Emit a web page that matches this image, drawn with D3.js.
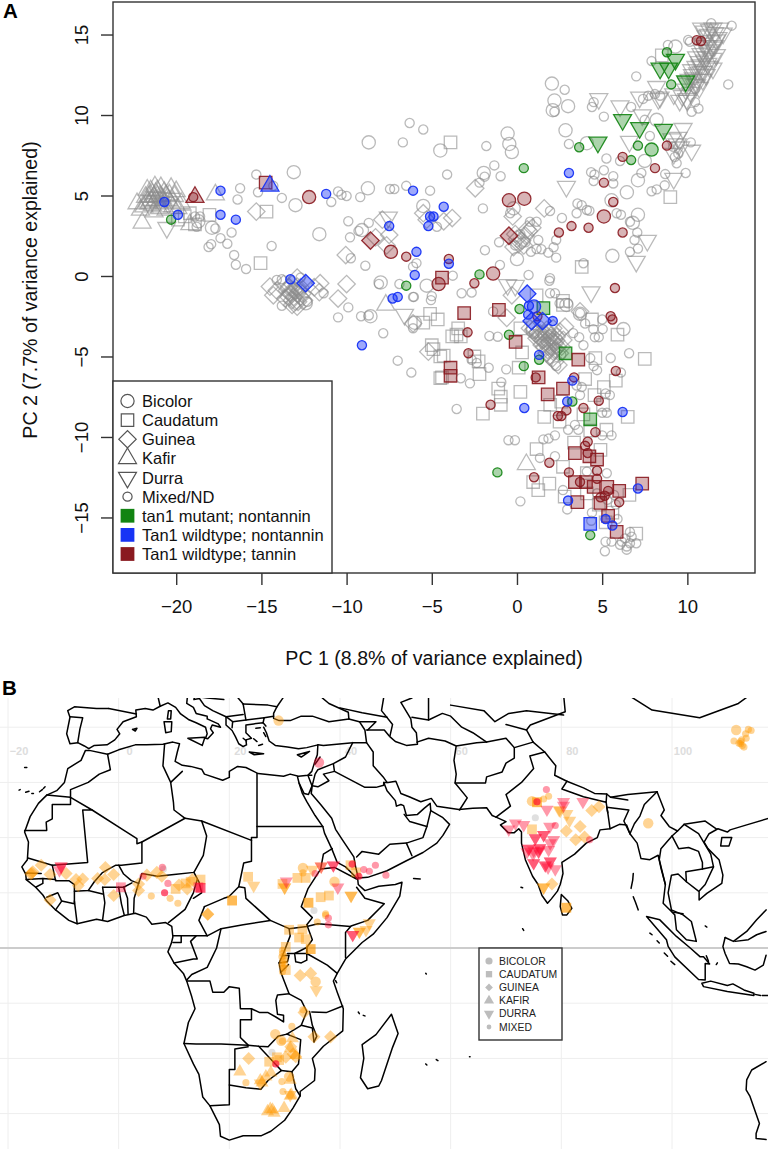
<!DOCTYPE html>
<html>
<head>
<meta charset="utf-8">
<title></title>
<script src="https://d3js.org/d3.v7.min.js"></script>
<style>
body {margin:0; background:#fff;}
svg {display:block;}
text {font-family:"Liberation Sans",Arial,sans-serif;}
</style>
</head>
<body>
<svg width="768" height="1149"></svg>
<script>
// panel A, values are [PC1, PC2]
var pc1Ticks = [-20,-15,-10,-5,0,5,10];
var pc2Ticks = [-15,-10,-5,0,5,10,15];
var legendLabels = ["Bicolor","Caudatum","Guinea","Kafir","Durra","Mixed/ND","tan1 mutant; nontannin","Tan1 wildtype; nontannin","Tan1 wildtype; tannin"];

var greyBicolor = [[-8.7,8.3],[-4.5,7.8],[-13.1,6.45],[-13,4.4],[-8.75,5.45],[-11.6,2.6],[-17.9,3],[-9.1,2.85],[-5.5,4.35],[-8,-.4],[-8.6,-2.5],[-6,-2.9],[-12.4,-1.7],
 [2.05,11.95],[2.2,10.9],[3,10.55],[2.1,10.3],[2.85,9.05],[-.55,8.85],[-.45,8.2],[-.3,7.7],[-1.95,6.4],[4.1,8.25],[6.45,5.2],[7.1,5.95],[7.5,7.15],[8.2,9.7],[9.3,14.25],[7.1,3.8],[5.6,1.25],[0,1.05],[5.55,4.7],[6.8,3.3],[6.25,-3.3],[3.7,-2.35],[2.9,-1.8],[-.2,4.2],[-18.7,3.4],[-5.3,-.6]];
var greyCaudatum = [[-14.7,4],[-15.05,.8],[-18.05,3.8],[-19.9,3.5],[-18.9,3.2],[-19.5,3.7],[-19.2,3.9],[-3.9,8.3],[9,4.9],[3.8,.56],[1.15,-1.2],[8.5,13.7],[2.7,-1.55],[-5.1,-2.35],[-5.5,-2.9],[-5,-4.3],[-4.5,-6.35],[-4.5,-5],[-4.65,-2.7],[-3.45,-3.25],[-3.8,-3.75],[-3.55,-3.65],[-3.3,-3.75],[-4.9,-4.55],[-4.3,-4.95],[-4.4,-6.3],[-2.25,-5.3],[-2.5,-5],[-2.2,-6.1],[-1.1,-7],[-.95,-7.5],[-.95,-8],[-2,-8.55],[.2,-7.2],[.1,-5.7],[.3,-4.75],[.2,-3.25],[1.6,-8.75],[1.95,-8],[2.5,-9.05],[1.15,-10.75],[.95,-12.8],[1.25,-13.3],[1.9,-12.9],[7.5,-5.15],[5.9,-3.65],[5.8,-6.5],[5.1,-6.9],[4.6,-5.1],[4,-6.4],[4.55,-7.4],[5.05,-8],[6.5,-8.75],[4.4,-2.7],[2.7,-1.8],[2.6,-7.8],[4.9,-10.8],[3.35,-10.35],[2.7,-11.85],[5.25,-9.55],[4.1,-12.25],[4.1,-13.5],[2.8,-13.7],[7,-16],[6.6,-13.6],[4.8,-14.2],[5.6,-14.7],[5.2,-15.3],[3.9,-8.6],[4.3,-9.6]];
var greyGuinea = [[-15.3,4],[-10.05,1.3],[-10,-.5],[-10.5,-1.4],[-7.9,3.5],[-7.5,2.55],[-8.3,2.4],[-7.65,1.9],[-5.5,3.9],[-5.3,3.5],[-11.55,-.45],[-11.6,-1],[-5.2,-4.7],[-6.1,-2.95],[-2.45,5.45],[1.6,4.2],[-.25,3.7],[-3.8,3.6],[-4.3,3.4],[-.3,-1.2],
 [-.2,1.8],[.1,2],[.3,2.2],[.5,2.5],[.7,2.8],[.9,3],[0,2.3],[.4,1.9],[.6,2.9],[-.1,2.6],
 [-14.5,-.66],[-14.1,-.9],[-13.7,-.5],[-13.3,-1.1],[-12.9,-.1],[-12.9,-.66],[-12.6,-1.1],[-11.9,-.7],[-13.2,-1.5],[-14.3,-1.2],[-12.85,-1.6],[-13.6,-1.4],[-12.5,-1.5],[-13.5,-.9],[-13.1,-.9],[-12.7,-1.3],
 [-13.4,-.7],[-13.2,-.5],[-13,-.9],[-13.1,-1.3],[-12.9,-1.1],[-13.3,-1],[-12.8,-.9],[-13,-1.6],[-13.4,-1.3],[-12.7,-.7],[-13.2,-1.8],[-12.9,-1.9],
 [.76,-3.25],[.96,-3.35],[1.35,-3.56],[1.74,-3.35],[2.13,-3.25],[2.52,-3.46],[2.82,-3.15],[1.15,-3.87],[1.55,-3.97],[1.94,-3.87],[2.33,-3.77],[2.72,-3.97],[1.45,-4.28],[1.84,-4.39],[2.23,-4.18],[2.62,-4.39],[1.74,-4.8],[2.13,-4.7],[2.52,-4.8],[2.23,-5.32],[2.43,-5.53],[3.7,-2.2],[-.6,-2.6],
 [1,-3.3],[1.2,-3.5],[1.4,-3.3],[1.6,-3.6],[1.8,-3.5],[2,-3.7],[1.3,-3.8],[1.5,-4],[1.7,-4.1],[1.9,-4.1],[2.1,-4],[2.3,-4],[1.6,-4.4],[1.8,-4.6],[2,-4.4],[2.2,-4.6],[2.4,-4.4],[1.9,-5],[2.1,-5.1],[1.1,-3.6]];
var greyKafir = [[-22.3,4.5],[-21.7,5.35],[-21.25,5.55],[-20.3,5.45],[-20,5.25],[-22,3.3],[-21.5,4.7],[-20.95,4.95],[-20.45,4.7],[-21.9,4.3],[-21.4,5.1],[-22.1,4.1],[-21.2,4.7],[-21.6,4.95],[-20.7,5.2],[-20.1,4.95],[-17.7,5.05],[-21,4.2],[-20.6,4.1],[-21.3,4],[-20.2,4.3],[-19.7,4.5],[-19.2,3.2],[.55,-11.7],[-7.7,-1.8],
 [-21.8,4.9],[-21.5,5.3],[-21.1,5.3],[-20.8,4.8],[-20.6,5],[-21.3,4.9],[-21,4.6],[-21.6,4.5],[-20.9,5.5],[-21.2,5.15],[-20.4,5.05],[-20.7,4.5],[-21.4,4.4],[-20.2,4.6],[-19.9,4.2],[-21.1,4.95],[-20.9,4.3],[-21.7,4.6]];
var greyDurra = [[-20.55,3],[-7.55,3.65],[-6.6,-2.4],[4.8,11],[6.05,10.55],[7.35,10],[6.6,8.35],[9.75,9.15],[9.45,8.6],[10.25,7.8],[9.2,6.05],[2.9,5.55],[7.65,2.2],[7,.9],[-.55,-.55],[4.35,-1],[7.2,11.1],[8.3,11],[9.55,10.9],
 [10.84,15.38],[11.5,15.38],[11.9,15.38],[11.23,15],[11.7,14.66],[12.1,15.07],[10.94,14.45],[11.33,14.04],[10.54,13.6],[11.13,13.6],[11.7,13.74],[11.5,12.9],[10.74,13.1],[10.25,12.8],[10.94,12.7],[10.35,12.3],[9.96,11.97],[8.2,11.76],[8.4,11.1],[9.2,11.3],[9.96,11],[10.54,11.86],[11.1,14.9],[11.6,14.3],[10.9,14],[11.2,13.2],[10.6,12.6],
 [11,15.2],[11.3,15.3],[11.6,15.1],[11.8,14.8],[11.4,14.6],[11.1,14.3],[11.5,14.2],[10.8,13.8],[11.2,13.9],[11.5,13.5],[10.7,13.3],[11,13.4],[11.3,13],[10.5,13],[10.8,12.7],[11.1,12.5],[10.3,12.5],[10.6,12.2],[10.9,12.2],[10.1,12.2],[10.4,11.9],[10.7,11.7],[9.9,11.6],[10.2,11.4],[9.7,11.2],[10,10.9],
 [9.1,8.5],[9.4,8.2],[9.2,7.6],[9.6,8],[-.1,-.6]];
var greyMixed = [[-6.3,9.5],[-5.5,9.1],[-6.7,8.3],[-15.3,6.3],[-14.3,5.6],[-15.2,5.2],[-16.25,5.45],[-16.4,4.75],[-13.8,4.85],[-10.5,5.25],[-10.3,5.05],[-10,4.97],[-10.9,4.6],[-9.2,4.9],[-7.45,5.4],[-7.2,5.4],[-6.5,5.6],[-5.1,5.3],[-9.9,3.4],[-8.7,3.3],[-9.3,2.8],[-9.8,2.4],[-16.75,2.7],[-17.7,2.95],[-17.4,2.35],[-17,2],[-17.95,1.97],[-18.1,1.8],[-14.4,1.86],[-16.6,1.3],[-16.5,.7],[-15.9,.43],[-18.8,3.06],[-18.9,3.7],[-18.6,3.7],[-9.75,1.1],[-8.9,.64],[-6.1,.58],[-5.9,.8],[-8.1,-.5],[-6.9,-.5],[-6.1,-1.3],[-5,-1.25],[-13.8,-.2],[-14.1,-.25],[-12.7,-.1],[-11.35,-1.07],[-4.7,3.06],
 [-13.8,-1.85],[-12.3,-1.6],[-10.5,-2.57],[-9.9,-1.95],[-9.15,-2.5],[-8.7,-2.45],[-7.85,-3.56],[-7,-5.26],[-6.2,-6],[-6.05,-1.3],[-5.05,-1.5],[-6.1,-3.25],
 [-1.8,8.07],[-4.1,6.3],[-1.33,6.87],[-.96,6.2],[-2.2,5.8],[-1.9,6.17],[-2,4.2],[2.8,11.57],[2.2,10.2],[5.1,9.9],[4.4,10.5],[4.5,10.8],[6.7,10.5],[7,12.4],[12.4,11.9],[12.6,15.55],[3.05,8.2],[5.25,7.3],[4.35,6.45],[4.55,6.3],[5.1,6.57],[4.5,5.9],[5.65,6.2],[5.65,5.75],[7.3,6.4],[7.9,5.26],[8.2,5.38],[8.67,5.63],[8.7,6.33],[9.9,6.4],[6.05,7.14],[7.8,8.7],[7.5,9.7],[3.55,4.5],[3.8,4.4],[4.1,4.1],[3.5,3.9],[4.25,4.05],[2.64,3.6],[1.94,4.04],[-1.88,1.6],[-1.05,2.1],[1.15,3.37],[.76,3.37],[1.25,2.24],[1.15,1.68],[.82,1.5],[1.84,1.45],[1.43,1.66],[2.15,1.78],[2.3,2.24],[2.3,1.14],[-1,.68],[.68,.06],[1.94,-.14],[1.9,-.3],[3.9,.79],[-3.77,.02],[-3.25,-1.07],[-2.66,-1.03],[1.94,-1.07],[2.23,-1.07],[6.63,1.5],[7.1,1.7],[6.63,3.37],[7.06,2.7],[6.9,2.24],[5.85,3.9],[6.1,3.8],[-.4,3.9],[7.9,13.35],[8.86,14.35],[10.05,14.66],[10.15,14.55],[11.4,15.7],[10.45,11.65],[10.65,10.4],[10.25,10.2],[10.45,10.8],[8.4,11.2],[8.1,11.3],[7.7,11.2],[7.4,11],[9.37,7],[9.27,7.4],[9.47,7.6],[9.17,8.03],[9.56,8.25],[10.2,8.3],[.2,2.6],[.5,2.1],[-.1,1.9],
 [-3.54,-8.26],[-1.62,-3.73],[-1.13,-3.77],[-1.66,-5.7],[-.63,-5.8],[-3.3,-6.35],[-2.76,-6.67],[-.92,-6.6],[-.5,-10.2],[-.12,-10.2],[1.55,-10.15],[1.85,-10.1],[2.23,-9.9],[1.35,-11.3],[2.23,-11.2],[.2,-14],[2.95,-14.5],[5.16,-17.1],[5.2,-16.5],[6.44,-16.8],[6.73,-16.2],[6.05,-16.7],[6.34,-16.3],[6.15,-16.5],[6.63,-16.6],[6.44,-17],[7,-16.6],[6.63,-15.9],[5.55,-16.5],[2.7,-13.3],[5.27,-12.25],[4.1,-12.15],[4.36,-15.2],[5.5,-5.1],[6.58,-4.8],[6.1,-6],[5,-2.7],[5.03,-3.3],[4.48,-3.3],[4.8,-3.8],[4.57,-3.8],[3.65,-3.8],[3.9,-4.3],[3.3,-3.55],[4,-2.95],[3.7,-2.3],[4.5,-5.6],[4.7,-5.85],[4.3,-5.1],[3,-1.7],[2.5,-1.7],[5.2,-7.3],[5.45,-7.4],[3.7,-7.4],[3.5,-6.8],[3.8,-6.9],[5.27,-8.5],[5,-8.5],[3,-9.55],[3.4,-9.25],[3.6,-9.55],[5,-9.9],[5.55,-9.9],[-2.66,-5.2],[-2.36,-5.4],[-1.4,-2.2],
 [1,-3.6],[1.5,-3.7],[2,-3.6],[2.4,-3.9],[1.7,-4.1],[2.3,-4.5],[2.6,-4.9],[2.3,-5.6],[5.8,-14.2],[5.3,-13.9],[5.7,-13.6],[4.7,-13.5],[4.4,-14.7],[5.9,-15.1]];

var greenMixed = [[-20.3,3.5],[-6.5,-.6],[-2.2,.1],[.4,6.7],[7.1,8.1],[6.7,7.2],[3.65,8],[9.05,11.9],[8.8,13.9],[.15,-2.05],[-.47,-3.65],[1.3,-5.2],[.4,-5.6],[3.25,-7.8],[-1.15,-12.2],[4.3,-16.1]];
var greenBicolor = [[7.9,7.85]];
var greenCaudatum = [[1.55,-2],[2.85,-4.8],[4.3,-8.9]];
var greenDurra = [[4.75,8.3],[6.2,9.7],[7.2,9.2],[8.6,9.1],[9.9,12.1],[8.4,12.9],[8.9,12.9],[9.3,13.45]];

var blueMixed = [[-20.7,4.6],[-19.9,3.8],[-17.4,5.3],[-17.4,3.8],[-16.5,3.5],[-11.2,5.1],[-6.1,5.3],[-7.5,3.1],[-5.1,3.7],[-4.9,3.7],[-5.2,3.1],[-5.9,1.5],[-6,.06],[-13.3,-.2],[-7.3,-1.4],[-7,-1.3],[-4.3,4.3],[3.05,6.4],[-4,.76],[.7,-1.85],[.66,-2.4],[2.1,-2.8],[1.3,-4.9],[3.25,-6.5],[2.95,-7.8],[.43,-8.2],[6.2,-8.45],[3,-13.95],[7.1,-13.2],[5.2,-15.1],[5.6,-15.5],[-9.1,-4.3]];
var blueBicolor = [[1,-1.9]];
var blueCaudatum = [[4.3,-15.4]];
var blueGuinea = [[-12.4,-.45],[.6,-1.1],[.86,-2.8],[1.5,-2.8]];
var blueKafir = [[-14.5,5.6]];

var redMixed = [[-19,4.9],[-6.5,1.2],[-4,1.06],[-2.5,-.45],[2.46,2.7],[3.2,3.1],[4.2,3],[5.65,4.6],[6.2,2.7],[5.1,5.8],[6.2,7.4],[8.1,6.7],[8.8,8.1],[5.75,-.75],[10.55,14.65],[10.8,14.6],[-2.9,-3.5],[-2.85,-4.8],[1.2,-2.5],[1.1,-6.3],[3.35,-6.3],[5.5,-2.5],[5.6,-2.7],[5.8,-5.9],[4.8,-7.75],[3.9,-8.2],[2.9,-8.35],[2.6,-8.7],[2.4,-8.7],[-1.55,-8],[4.6,-9.7],[4.15,-10.3],[4,-10.55],[4.15,-11],[1.9,-11.6],[1,-12.5],[3.05,-12.2],[4.7,-12.1],[3.7,-12.8],[4.7,-12.6],[5.35,-13.35],[5.15,-13.65],[4.9,-13.75],[6,-14.05]];
var redBicolor = [[-12.2,4.9],[-7.4,1.5],[-.47,4.7],[.43,4.8],[5.1,3.7],[-1.4,.15],[-4.6,-.5]];
var redCaudatum = [[-14.75,5.8],[-4.4,-.1],[-3.1,-2.3],[-1.06,-2.1],[-.08,-4.1],[-3.9,-5.7],[-3.9,-6.2],[1.27,-6.3],[1.8,-7.35],[2.7,-7],[3.6,-5.2],[3.4,-11],[4.25,-11.2],[4.7,-11.4],[3.4,-12.8],[4.05,-12.8],[4.5,-13.1],[5.3,-13.1],[6,-13.35],[7.35,-12.9],[3.55,-14.05],[4.9,-14.1],[5.35,-14.9],[5.85,-15.9]];
var redGuinea = [[-8.6,2.2],[-.47,2.5]];
var redKafir = [[-18.9,4.9]];

// panel B, values are [longitude, latitude]
var lonTicks = [-20,0,20,40,60,80,100];
var latGrid = [40,30,20,10,-10,-20,-30];
var mapLegend = ["BICOLOR","CAUDATUM","GUINEA","KAFIR","DURRA","MIXED"];

var orangeBicolor = [[28.9,41.2],[33.3,14.5],[39,12],[74.7,26.6],[95.7,22.6],[111.6,39.5],[28.3,-15.6],[29.4,-16.8],[35.6,-6.1],[30.8,-23.3]];
var orangeCaudatum = [[10.3,10.7],[12.1,11.7],[13,12],[14.8,12.4],[23.4,12.9],[20.5,8.6],[20.5,8.6],[29.6,11.6],[32.3,12.7],[33.8,12.7],[34.3,8.2],[34.3,8.2],[36.5,9.2],[38,9.5],[41.9,15],[42.9,13.7],[75.6,26.4],[75.6,26.4],[74.7,21.5],[80.9,7.3],[80.9,7.3],[33.2,3.4],[32.6,1.9],[33.8,1.6],[34.7,-.2],[34.7,-.2],[30.2,.2],[30.8,3.3],[30.2,-4],[29,-20.3],[27.2,-20.6],[28.6,-19.8]];
var orangeGuinea = [[-15.7,13.6],[-15.5,13.8],[-15.9,13.4],[-14,15],[-12.4,13.3],[-9.5,13.5],[-7.7,12.4],[-6.5,12.5],[-7.3,11.3],[-3.8,12.6],[-2.5,12.4],[-2.4,14.6],[-.9,13.3],[-.9,9.5],[-12.4,8.7],[3.6,11.6],[3.6,10.4],[5.1,13.2],[6.9,13.7],[7.8,13],[10.9,11.4],[12.4,10.7],[13.3,12.4],[85.5,24.9],[86.8,25.6],[83.4,22],[80.9,21.2],[82.6,19.6],[84.2,20.1],[78.3,11.6],[16.1,6.1],[16.1,6.1],[34.7,-4.6],[32.8,-5],[33.5,-11.7],[38.3,-16.1],[35.3,-16.1],[23.5,-20],[32,-19.7],[31.1,-17.9],[30.2,-19.8],[31.5,-19.2]];
var orangeKafir = [[21.9,-22.4],[27.5,-22.6],[26.6,-23.3],[25.9,-24.4],[25.6,-24],[31,-23.9],[31,-26.8],[31.2,-26.6],[27.8,-29.3],[26.9,-29.6],[28.1,-29.9],[27.4,-29.2],[29.9,-29],[31,-18.2],[32,-19.4],[31.4,-16.4]];
var orangeDurra = [[24.4,11.3],[30,11],[30,11],[35,14.2],[42,9.5],[43.5,3],[43.5,3],[44.7,3.3],[45.3,4.5],[35.7,-7.6],[25.6,-24.5],[76.8,11],[76.8,11],[79.8,24.9],[79.6,25],[81,24.3],[81.5,23.1],[42,9.5],[36.6,14.8],[31,-26.6]];
var orangeMixed = [[5.9,9.4],[9.3,9],[10.7,8.1],[33.3,13.6],[37.4,5.9],[77.7,27.5],[76.8,27],[113.8,39.6],[114.3,39.4],[111.2,37.5],[113.3,38.8],[112.4,37.4],[112.6,37.7],[112.1,37.1],[113,36.4],[112.7,36.7],[112.4,37],[113.4,38],[29.6,-.4],[29.6,-1],[29.5,-1.6],[29.7,-2.2],[29.6,-2.7],[29.5,-3.2],[29.8,-3.6],[29.6,-4.3],[29.9,-1.4],[30,-2.2],[30,-3],[31.3,-14.2],[23,-24.4],[29.5,-24.2],[29.7,-26],[29.6,-16.9],[33.3,-11.2],[37.4,6.2],[35.9,4.7]];
var redBicolorMap = [[36.2,33.6]];
var redCaudatumMap = [[14.8,10.9],[14.8,10.9],[14.4,11],[.4,11]];
var redDurra = [[-10.4,14.8],[-10.4,14.8],[-10.7,14.1],[36.6,14.8],[38.8,15],[38.8,15],[30.3,12.1],[39.6,11],[42.3,2.4],[42.3,2.4],[70.5,21.5],[71.7,22.6],[73.2,22.3],[77.4,25.1],[80.4,26.5],[80.4,25.8],[83.9,26.5],[77.9,22],[78.6,19.6],[75.3,19.9],[75.3,19.9],[76.8,20.5],[76.8,20.5],[74.1,18],[74.1,18],[75,17.7],[76.1,18.1],[76.1,18.1],[77.7,17.8],[75,15.4],[75,15.4],[77.1,15],[77.1,15],[78,15.7],[78,15.7],[78.9,14.3],[75.9,17.5],[75.9,17.5],[74.9,17],[78,19],[77.6,14.6],[73.8,17.4]];
var redMixedMap = [[4.4,13],[8.9,11.7],[8.3,10],[8.3,10],[7.9,14.6],[35.5,13.5],[42.2,15.2],[42.2,15.2],[43.4,13],[43.4,13],[44.3,14.2],[45.3,13.9],[46.4,15],[77.3,28.7],[75.6,26.5],[75.6,26.5],[78.9,22.2],[85.1,19.6],[48.3,13.2],[37.9,5.4],[37.9,4.2],[28.4,-21],[28.4,-21]];
var greyMap = [[8.1,14.3],[35.3,6.8],[75.3,23.6],[27.7,-18.9]];

// coast lines and borders, one [lon,lat] polyline each
var coasts = [
 [[-1.8,43.4],[-4,43.4],[-8,43.7],[-9.2,43],[-8.8,41.8],[-9.4,38.8],[-8.8,37],[-7.4,37.2],[-6.2,36.6],[-5.4,36.1],[-4.4,36.7],[-2.1,36.8],[-.7,37.7],[.2,38.8],[-.3,39.6],[.8,41],[3.2,41.9],[3.1,43.1],[4.8,43.4],[6.2,43.1],[7.5,43.8],[8.9,44.4],[10.3,43.6],[11.2,42.4],[12.6,41.4],[14,40.8],[15.7,40],[16,38.8],[15.7,38],[16.1,37.9],[17.1,39],[16.6,39.7],[16.9,40.4],[18.4,40],[18,40.6],[16,41.5],[16,42],[14,42.5],[13.5,43.6],[12.3,44.3],[12.4,45.3],[13,46]],
 [[13.7,46],[13.7,45.6],[13.6,45],[14.6,45.2],[15.5,43.9],[17,43],[19.4,41.9],[19.4,40.4],[20.5,39.4],[21.1,38.3],[21.7,37],[22.5,36.5],[23.1,36.8],[23,37.7],[24,38],[23,39],[23,40.4],[24.4,40.6],[26.1,40.8],[26.6,40.2]],
 [[26.2,40],[26.7,39],[27.2,37.5],[28.3,36.7],[30.5,36.4],[32.5,36.1],[34,36.3],[36,36.8],[35.9,35],[35.5,33.9],[34.9,32],[34.2,31.3],[32.5,31.1],[31,31.5],[29.8,31.1],[25.2,31.6],[23,32.7],[21.5,32.9],[20,32],[20,30.9],[18.8,30.4],[15.5,31.5],[15,32.4],[13,32.9],[11.5,33.1],[10.2,33.8],[10.6,35.5],[11,37],[9.8,37.3],[8,36.9],[5,36.8],[3,36.8],[0,35.9],[-2,35.1],[-5.3,35.8],[-6,35.8],[-6.8,34],[-9.2,32.5],[-9.8,30],[-11.2,28.5],[-13,27.7],[-14.5,26.2],[-16,23.8],[-17,21],[-16.3,19.2],[-16.5,16],[-17.5,14.7],[-16.8,13.4],[-16.7,12.4],[-15,11],[-13.7,9.6],[-13,8.5],[-11.4,6.9],[-9,5],[-7.5,4.4],[-4,5.2],[-2,4.8],[1,5.9],[3,6.3],[5,5.6],[6,4.3],[8.5,4.6],[9.6,3.9],[9.8,2],[9.5,.8],[8.9,-.7],[10,-2.7],[11.7,-4.6],[12.3,-6],[13.2,-8.8],[13.8,-11],[12.6,-13.5],[11.8,-17.3],[13.5,-21],[14.5,-22.9],[15.2,-27],[16.5,-28.6],[18.2,-32],[18.4,-34.1],[20,-34.8],[22.5,-34],[25.8,-34],[27.5,-33.2],[30,-31.2],[31.5,-29],[32.8,-26.8],[32.8,-26],[35.4,-24],[35.5,-22],[35,-20],[37,-17.8],[40.5,-15],[40.6,-11],[39.5,-8],[38.8,-6],[39.5,-4.6],[41,-2],[42.5,-.5],[44,1],[46,2.5],[48.5,5.5],[50.8,9.4],[51.2,11.9],[50,11.5],[47,11.2],[44.5,10.4],[43.3,11.5],[43.2,12.5],[41,14.7],[39.5,15.5],[38.5,18],[37.2,20.8],[36.9,22],[35.5,24],[34,26.5],[33.2,28],[32.6,29.9],[32.3,31.1]],
 [[32.6,29.9],[33.5,28],[34.3,27.8],[35,29.5],[34.8,28],[36.5,26],[38.5,23.5],[39.2,21.5],[40.5,19.5],[42.5,16.5],[42.8,14.8],[43.3,12.7],[45,12.8],[48.5,14],[52,15.8],[55,17.3],[57.5,19],[58.6,20.4],[59.8,22.4],[58.6,23.6],[56.4,24.9],[56.3,26.2],[55.2,25.3],[54,24.2],[52,24],[51.5,25.8],[51,26],[50.2,25.7],[50,26.7],[48.5,28.5],[47.9,30],[48.7,30],[50.1,30.2],[51,28],[52.5,27.4],[54.6,26.5],[56.5,27.1],[57.5,25.7],[61.5,25.1],[64,25.3],[66.5,25.4],[67.5,24],[68.2,23.7],[70,22.9],[69,22.3],[70.4,20.9],[71.5,20.9],[72.3,21.6],[72.8,21],[72.8,19],[73.5,16],[74.8,13],[75.8,11.5],[76.5,9.5],[77.5,8.1],[78.2,8.9],[79.3,10.3],[79.8,11.5],[80.3,13.5],[80.1,15.5],[81.3,16.3],[82.4,17],[84.5,19],[86.5,20],[87,21.4],[88.8,21.6],[90.5,22.4],[91.8,22.3],[92.4,20.7],[93.7,19],[94.4,16.2],[96,16],[97.5,16.8],[98,14.5],[98.8,11.5],[98.4,8.1],[99.9,6.6],[100.5,6],[100.8,3.3],[102.6,1.5],[104.4,1.2],[103.5,4.8],[102,6],[99.9,6.9],[99.3,10],[99.9,13.2],[101.1,13.4],[102.6,12],[104.9,10.2],[104.9,8.7],[106.3,9.9],[109,11.7],[109.2,13.2],[108.5,16],[106.5,18],[105.8,19.2],[106.7,20.7],[108.3,21.6],[110,21],[110.5,21.4],[113.5,22.3],[117.5,23.5]],
 [[41.6,41.5],[38,41],[35,42],[33,42],[31,41.2],[29,41.2],[28,41.6],[28,42.5],[28.6,43.7],[29.7,45.3],[30,46]],
 [[36.8,46],[36.8,45.3],[38,44.3],[41.5,42.7],[41.6,41.5]],
 [[48,46],[47.5,43],[49.5,40.5],[49,38.3],[50,37.4],[52,36.7],[54,36.9],[53.8,39],[53,40],[52.8,41.5],[51,44.5],[53,45.3],[53,46]],
 [[49.3,-12],[50.5,-15.5],[49.5,-18],[47.5,-24],[47,-25],[45,-25.5],[43.7,-23.5],[44.3,-20],[44,-17.5],[46.5,-15.7],[49.3,-12]],
 [[80,9.7],[81.2,8.5],[81.9,7.2],[81,6],[80.2,6],[79.8,7.5],[80,9.7]],
 [[109,20],[110.8,20],[110.3,18.5],[108.8,18.5],[109,20]],
 [[95.4,5.7],[97.8,5.1],[100.8,2.1],[103.3,0],[105.1,-1.6],[105.7,-1.6],[106.8,-2.9],[106,-2.8],[106,-5.8],[104.8,-5.7],[100.5,-1.6],[99.3,.3],[99,1.5],[95.4,5.7]],
 [[105.4,-6.4],[107,-6],[110,-6.8],[111,-6.5],[113,-7.6],[114.8,-8.2],[114.8,-8.6],[110,-7.9],[105.7,-7],[105.4,-6.4]],
 [[115,-8.4],[116,-8.6]],[[116.3,-8.6],[117.5,-8.6]],
 [[109.6,1.9],[109.2,.25],[109.6,-1],[110.4,-2.8],[112,-2.9],[113.5,-3.4],[115,-4],[116.5,-3.1],[117,-1.3]],
 [[109.6,1.9],[111.1,1.2],[113.5,3],[115.3,5.1],[117,6.9]],
 [[117,-20.6],[114.4,-22.1],[113.5,-23.9],[113.4,-25.7],[114.1,-26.9],[115.8,-31.8],[115.2,-33.6],[115.2,-34.5],[117,-34.7]],
 [[32.3,35],[34.5,35.6],[33,34.6],[32.3,35]],
 [[23.6,35.5],[26.2,35.2],[24.5,35],[23.6,35.5]],
 [[12.5,38],[15.6,38.2],[15.1,36.7],[12.5,38]],
 [[8.2,41],[9.6,41],[9.5,39.2],[8.5,39],[8.2,41]],
 [[9,43],[9.5,43],[9.4,41.5],[8.8,41.5],[9,43]],
 [[2.5,39.6],[3.3,39.8],[3,39.3],[2.5,39.6]],
 [[-17,32.7],[-16.6,32.7]],[[-18,28.6],[-17.8,28.7]],[[-16.8,28.2],[-16.2,28.4]],[[-15.7,28],[-15.4,28]],[[-14.3,28.3],[-13.8,28.7]],[[-13.6,28.9],[-13.3,29.2]],
 [[53.3,12.6],[54.5,12.5]],[[39.2,-5.9],[39.4,-6.3]],[[43.3,-11.6],[43.5,-11.9]],[[44.2,-12.2],[44.5,-12.3]],[[55.5,-21],[55.7,-21.2]],[[57.4,-20.2],[57.7,-20.4]],[[55.5,-4.6],[55.6,-4.7]],[[63.4,-19.7],[63.5,-19.7]],
 [[73,3.5],[73.2,3.2]],[[72.7,11],[73,10.9]],[[93,13.5],[92.9,12.3],[92.6,10.8]],[[93,9.3],[93.4,8.3],[93.9,6.9]],[[96,2.7],[96.4,2.4]],[[97.3,1.3],[97.7,.9]],[[98.6,-.9],[99.2,-1.5]],[[99.8,-2.4],[100.5,-3]],[[106.2,-1.4],[106.6,-2.4]],[[108,-3],[108.2,-2.7]],[[106,4],[106.3,3.8]],
 [[22.5,38],[23.1,37.5]],[[24.4,37.9],[25,37.4]],[[25.3,36.7],[26,36.9]],[[26.2,39],[26.6,38.3]],[[24.8,39.8],[25.6,39.9]]
];
var borders = [
 [[-8.8,41.9],[-6.5,41.7],[-7,39.7],[-7.4,37.2]],[[-1.8,43.4],[3.2,42.4]],[[7.5,43.8],[7,46]],[[13.7,45.6],[16,45.3],[19,45]],[[19.4,41.9],[20.6,41],[20.5,39.9]],[[20.6,41],[23,41.3],[26.3,41.7],[26.1,40.8]],[[22.5,44.2],[23,41.3]],[[26.3,41.7],[28,42]],[[22.5,44.2],[27,44],[28.6,43.7]],[[19.4,41.9],[22.5,42.3]],[[22.5,44.2],[21,46]],
 [[36,36.8],[37,36.7],[42.3,37.2],[44.8,37.2],[44.5,39.5],[43.5,41],[41.6,41.5]],[[42.3,37.2],[41,34.6],[38.8,33.4],[36,32.3],[35.5,31.5],[35,29.5]],[[38.8,33.4],[39,32],[37,31.5],[38,30.3],[36,29.2],[35,29.4]],[[35.5,33.3],[36.4,34.6]],[[34.9,31.3],[34.2,31.3],[34.9,29.5]],[[39,32],[44.5,29.1],[46.5,29.1],[47.9,29.5],[47.9,30]],[[44.8,37.2],[46,35.5],[46,33],[47.8,31],[48.5,30]],
 [[43,16.5],[44,17.5],[47,17],[49,18.8],[52,19],[55,20],[55.7,22],[52.6,22.9],[51.6,24.2]],[[55.7,22],[56.4,24.9]],[[52,19],[53,16.7]],
 [[53.9,37.3],[56,38],[59,37.5],[61,36.6],[60.6,34],[61,31.5],[60.8,29.9],[63,27.2],[61.6,25]],[[60.8,29.9],[66.3,29.9],[66.5,31],[69.3,31.9],[70,33.5],[71.5,34.4],[71.5,36.3],[74.9,37.3]],[[61,36.6],[64.7,37.2],[66.5,37.3],[70,38],[71.5,36.3]],[[74.9,37.3],[73.7,39.5],[74.4,40.4],[80.7,42.8],[80.4,46]],[[68.2,23.7],[70.8,25.7],[70,27.8],[72.8,30],[75,32.5],[74.3,34.8],[77,35.5]],[[74.9,37.3],[77,35.5],[79,33],[78.8,31.3],[81,30.2]],[[81,30.2],[80.1,28.8],[84,27.4],[88.1,26.4],[88.2,27.9],[86,28],[84,29],[81,30.2]],[[88.2,27.9],[88.9,27.3],[92,27.8],[97.3,28.3]],[[88.9,27.3],[92,26.8]],[[88.1,26.4],[88.4,24.5],[88.8,21.6]],[[88.4,24.5],[88.2,25.5],[92.2,25],[91.3,23],[92.4,20.7]],[[97.3,28.3],[95,26],[94.2,23.9],[93.2,22.5],[92.4,20.7]],[[97.3,28.3],[98.6,25],[98,24],[99.5,22],[101,21.2],[100,20.3],[98,18],[97.7,16],[98.8,11.5]],[[101,21.2],[102.2,22.4],[104.8,20.7],[107,17],[107.5,14.7],[105.5,14.3],[105.5,15.5],[104.8,17.5],[103,18.2],[101.2,18],[100,20.3]],[[102.6,12],[102.5,13.8],[105.5,14.3]],[[107.5,14.7],[106,11.5],[105,10.4]],[[102.2,22.4],[106,23],[108,21.6]],[[100.1,6.5],[102,6.2]],[[111.4,1.2],[113.8,1.5],[115.3,2.4],[117,3]],[[91.8,46],[96.4,43.1],[105,41.7],[112,44.3],[114.3,46]],
 [[53,41.8],[56,41.3],[58.5,42.5],[60,42],[62,40],[64,39],[66.5,37.3]],[[56,46],[56,41.3]],[[60,44],[66,43],[68,41],[70.5,42.5],[73.7,43],[80.4,42.2]],[[70,40.5],[73.7,39.5]],[[40,43.5],[44,42.6],[48.5,41.8]],[[43.5,41],[46.5,41],[45,39.5]],[[44.8,39.5],[48,39.5],[48.9,38.4]],
 [[-2,35.1],[-1.5,32.3],[-3.5,31.5],[-5.5,30],[-8.7,28.7],[-8.7,27.3],[-13,27.7]],[[-8.7,27.3],[-8.7,26],[-12,26],[-12,23.4],[-13.1,22.8],[-13,21.3],[-17,21.3]],[[-8.7,27.3],[-4.8,25],[-6.5,25],[-5.6,15.5],[-12,15],[-16.4,16.3]],[[-4.8,25],[1.1,21.2],[3.3,19.8],[3.3,18.9],[4.2,19.2],[4.2,15.4],[.5,15],[0,15],[-.5,15],[-2,14.2],[-3,13.6],[-4.4,12],[-5.5,10.4],[-8,10.3],[-8,11.5],[-9,12.2],[-11.4,12.2],[-12,15]],[[-11.4,12.4],[-13.7,12.6],[-16.7,12.4]],[[-13.7,12.6],[-13.7,11.7],[-15,11]],[[-16.8,13.6],[-14,13.5]],[[-13,9.2],[-11,10],[-10.3,8.5],[-11.4,6.9]],[[-8,8.5],[-7.5,4.4]],[[-8,10.3],[-8,8],[-10.3,8.5]],[[-2.9,5.1],[-2.5,8.2],[-2.9,11]],[[-5.5,10.4],[-2.9,9.8]],[[-2.9,11],[0,11],[.9,11]],[[0,11],[.5,8],[1,6]],[[.9,11],[1.6,9],[1.7,6.2]],[[3.6,11.7],[2.8,9],[2.7,6.3]],[[.9,11],[2.4,11.8]],[[0,15],[.9,13.4],[2.3,12.2],[3.6,11.7],[4.2,13.5],[7,13],[10,13.3],[13.6,13.7],[15.3,16.8],[15.9,20.3],[15,23]],[[4.2,19.2],[12,23.5]],[[8.3,36.9],[8,33],[9.4,30],[11.5,32]],[[9.4,30],[9.9,26.4],[10,25],[12,23.5],[15,23],[24,19.5],[24,20],[25,20],[25,22],[25,31.6]],[[25,22],[36.9,22]],[[24,19.5],[24,15.7],[22.6,15.4],[21.7,11.1],[22.8,10.9],[23,9],[27.4,5],[30.8,3.5],[34,3.9],[36,4.4],[41.9,3.9]],[[21.7,11.1],[19.9,9.3],[19,9],[15.5,7.5]],[[13.6,13.7],[14.5,12],[15,10],[13.5,9]],[[14.2,12.4],[13.5,10],[12,7],[9,4.6]],[[15.5,7.5],[14.5,5],[16,2.2]],[[9.8,2.2],[13.3,2.2],[16,2.2],[18.5,3.5],[22.5,4.2],[27.4,5]],[[34,4.2],[35,5.5],[33,7.5],[34.2,10.7],[36.5,14.3],[37,17],[38.6,18]],[[36.5,14.3],[39,14.6],[43,12.5]],[[43,11],[44.5,9],[48,8],[45,5],[42,4],[41,2.8],[41,-1.7]],[[34,4.2],[35,1.5],[34,.1],[34,-1],[37.7,-3.1],[39.5,-4.6]],[[31.8,-1],[33,-.4],[34,.1],[34,-2.2],[33,-2.7],[32,-2.5],[31.8,-1]],[[30.5,-1],[34,-1]],[[29.6,-1.4],[30.8,-1.3],[30.5,-2.5],[29,-2.7]],[[29,-2.7],[29.3,-4.4],[30.7,-3]],[[30.8,3.5],[31,2.2],[29.6,-1.4],[29,-2.7]],[[29.3,-4.4],[30.8,-8.3],[33,-9.5],[34,-11.5],[33,-14],[35,-14.5],[35.3,-17]],[[34.5,-11.5],[35,-14],[35.8,-16],[35.3,-17]],[[34.9,-11.6],[37.5,-11.7],[40.5,-10.5]],[[33,-14],[30.4,-15.6]],[[30.8,-8.3],[28.7,-8.5],[28.4,-9.5],[28.7,-12],[29.8,-12.2],[29.8,-13.4],[28.4,-12.5],[27,-11.7],[25.5,-11.7],[24,-11],[24,-13],[22,-13],[22,-16.2],[23.4,-17.6]],[[12.3,-6],[16.5,-6],[17,-8],[19,-8],[20,-7],[21.8,-7.3],[22,-11],[24,-11]],[[11.8,-17.3],[14,-17.4],[18.5,-17.4],[23.4,-17.6],[25.3,-17.8],[27,-17.9],[28.8,-16],[30.4,-15.6],[32.9,-16.6],[32.7,-19],[32.5,-21],[31.3,-22.4],[29.4,-22.2]],[[25.3,-17.8],[27,-19.6],[29.4,-22.2],[27,-24],[25.7,-25.6],[23,-25.3],[20,-24.8]],[[23.4,-17.9],[21,-18.3],[21,-22],[20,-22],[20,-24.8],[20,-28.4],[16.5,-28.6]],[[31.3,-22.4],[32,-25.5],[32.8,-26.8]],[[12.3,-5.8],[13.2,-4.8],[16,-3.5],[17.7,0],[18.5,3.5]],[[10,-2.7],[13.5,-2],[14.2,-2],[13,1.2],[14,2.2]],[[9.8,1],[11.3,1],[11.3,2.2]]
];

var svg = d3.select("svg");

// ---------- panel A ----------
var x = d3.scaleLinear().domain([-23.71,13.97]).range([113,755]);
var y = d3.scaleLinear().domain([-18.45,17.02]).range([573,2]);

var mark = {
  bicolor: {type:d3.symbolCircle, size:137, rot:0},
  caudatum: {type:d3.symbolSquare, size:155, rot:0},
  guinea: {type:d3.symbolSquare, size:152, rot:45},
  kafir: {type:d3.symbolTriangle, size:140, rot:0},
  durra: {type:d3.symbolTriangle, size:140, rot:180},
  mixed: {type:d3.symbolCircle, size:66, rot:0}
};
var tone = {
  grey: {stroke:"#8c8c8c", fill:"none", so:0.6, fo:0},
  green: {stroke:"#128412", fill:"#128412", so:0.9, fo:0.35},
  blue: {stroke:"#1733f5", fill:"#1733f5", so:0.95, fo:0.42},
  red: {stroke:"#8a1a20", fill:"#8a1a20", so:0.9, fo:0.33}
};
var layersA = [
  [greyBicolor,"bicolor","grey"],[greyCaudatum,"caudatum","grey"],[greyGuinea,"guinea","grey"],[greyKafir,"kafir","grey"],[greyDurra,"durra","grey"],[greyMixed,"mixed","grey"],
  [greenMixed,"mixed","green"],[greenBicolor,"bicolor","green"],[greenCaudatum,"caudatum","green"],[greenDurra,"durra","green"],
  [redCaudatum,"caudatum","red"],[redGuinea,"guinea","red"],[redKafir,"kafir","red"],[redBicolor,"bicolor","red"],[redMixed,"mixed","red"],
  [blueCaudatum,"caudatum","blue"],[blueGuinea,"guinea","blue"],[blueKafir,"kafir","blue"],[blueBicolor,"bicolor","blue"],[blueMixed,"mixed","blue"]
];

var plotA = svg.append("g");
layersA.forEach(function(l) {
  var m = mark[l[1]], t = tone[l[2]];
  plotA.append("g").selectAll("path").data(l[0]).enter().append("path")
    .attr("d", d3.symbol().type(m.type).size(m.size))
    .attr("transform", function(d) { return "translate("+x(d[0])+","+y(d[1])+") rotate("+m.rot+")"; })
    .attr("fill", t.fill).attr("fill-opacity", t.fo)
    .attr("stroke", t.stroke).attr("stroke-opacity", t.so).attr("stroke-width", 1.3);
});

// box
svg.append("rect").attr("x",113).attr("y",2).attr("width",642).attr("height",571)
  .attr("fill","none").attr("stroke","#333").attr("stroke-width",1.4);

// axes
var xAxis = svg.append("g").attr("transform","translate(0,573)")
  .call(d3.axisBottom(x).tickValues(pc1Ticks).tickSize(12).tickSizeOuter(0).tickPadding(15));
var yAxis = svg.append("g").attr("transform","translate(113,0)")
  .call(d3.axisLeft(y).tickValues(pc2Ticks).tickSize(12).tickSizeOuter(0));
xAxis.select(".domain").remove();
yAxis.select(".domain").remove();
xAxis.selectAll("line").attr("stroke","#333").attr("stroke-width",1.4);
yAxis.selectAll("line").attr("stroke","#333").attr("stroke-width",1.4);
xAxis.selectAll("text").style("font-size","18.5px").attr("fill","#111").attr("font-family","Liberation Sans");
yAxis.selectAll("text").style("font-size","18.5px").attr("fill","#111").attr("font-family","Liberation Sans")
  .attr("x",0).attr("dy",0).attr("text-anchor","middle")
  .attr("transform","translate(-25,0) rotate(-90)");

svg.append("text").attr("x",434).attr("y",665).attr("text-anchor","middle")
  .style("font-size","19.6px").attr("fill","#111").text("PC 1 (8.8% of variance explained)");
svg.append("text").attr("transform","translate(37,290) rotate(-90)").attr("text-anchor","middle")
  .style("font-size","19.6px").attr("fill","#111").text("PC 2 (7.7% of variance explained)");
svg.append("text").attr("x",3).attr("y",18).style("font-size","20.5px").style("font-weight","bold").text("A");
svg.append("text").attr("x",2).attr("y",695).style("font-size","20.5px").style("font-weight","bold").text("B");

// legend of panel A
var legA = svg.append("g");
legA.append("rect").attr("x",113).attr("y",381).attr("width",219).attr("height",192)
  .attr("fill","#fff").attr("stroke","#333").attr("stroke-width",1.4);
var legendY = d3.scalePoint().domain(legendLabels).range([401,554]);
var legendMarks = ["bicolor","caudatum","guinea","kafir","durra","mixed"];
var legendFill = ["#128412","#1733f5","#8a1a20"];
legendLabels.forEach(function(name, i) {
  var yy = legendY(name);
  if (i < 6) {
    var m = mark[legendMarks[i]];
    legA.append("path").attr("d", d3.symbol().type(m.type).size(m.size))
      .attr("transform","translate(127.5,"+yy+") rotate("+m.rot+")")
      .attr("fill","none").attr("stroke","#555").attr("stroke-width",1.2);
  } else {
    legA.append("path").attr("d", d3.symbol().type(d3.symbolSquare).size(190))
      .attr("transform","translate(127.5,"+yy+")").attr("fill",legendFill[i-6]);
  }
  legA.append("text").attr("x",142).attr("y",yy+6).style("font-size","16.5px").attr("fill","#111").text(name);
});

// ---------- panel B ----------
var lon = d3.scaleLinear().domain([-20,100]).range([8,672]);
var lat = d3.scaleLinear().domain([-10,10]).range([1003.2,892.8]);

svg.append("defs").append("clipPath").attr("id","mapClip")
  .append("rect").attr("x",0).attr("y",698).attr("width",768).attr("height",451);
var mapG = svg.append("g").attr("clip-path","url(#mapClip)");

// graticule
mapG.append("g").selectAll("line").data(lonTicks).enter().append("line")
  .attr("x1",function(d){return lon(d);}).attr("x2",function(d){return lon(d);})
  .attr("y1",698).attr("y2",1149).attr("stroke","#eeeeee").attr("stroke-width",1);
mapG.append("g").selectAll("line").data(latGrid).enter().append("line")
  .attr("y1",function(d){return lat(d);}).attr("y2",function(d){return lat(d);})
  .attr("x1",0).attr("x2",768).attr("stroke","#eeeeee").attr("stroke-width",1);
mapG.append("line").attr("x1",0).attr("x2",768).attr("y1",lat(0)).attr("y2",lat(0))
  .attr("stroke","#cccccc").attr("stroke-width",2);

mapG.append("g").selectAll("text").data(lonTicks).enter().append("text")
  .attr("x",function(d){return lon(d)+11;}).attr("y",755).attr("text-anchor","middle")
  .style("font-size","11px").style("font-weight","bold").attr("fill","#dddddd")
  .text(function(d){return d3.format("d")(d);});

var line = d3.line().x(function(d){return lon(d[0]);}).y(function(d){return lat(d[1]);});
mapG.append("g").selectAll("path").data(coasts.concat(borders)).enter().append("path")
  .attr("d",line).attr("fill","none").attr("stroke","#000").attr("stroke-width",1.5)
  .attr("stroke-linejoin","round").attr("stroke-linecap","round");

// sites
var markB = {
  bicolor: {type:d3.symbolCircle, size:85, rot:0},
  caudatum: {type:d3.symbolSquare, size:95, rot:0},
  guinea: {type:d3.symbolSquare, size:85, rot:45},
  kafir: {type:d3.symbolTriangle, size:75, rot:0},
  durra: {type:d3.symbolTriangle, size:75, rot:180},
  mixed: {type:d3.symbolCircle, size:40, rot:0}
};
var layersB = [
  [greyMap,"mixed","#b4b4b4"],[orangeBicolor,"bicolor","#ff9900"],[orangeCaudatum,"caudatum","#ff9900"],[orangeGuinea,"guinea","#ff9900"],[orangeKafir,"kafir","#ff9900"],[orangeDurra,"durra","#ff9900"],[orangeMixed,"mixed","#ff9900"],
  [redBicolorMap,"bicolor","#ff0a32"],[redCaudatumMap,"caudatum","#ff0a32"],[redDurra,"durra","#ff0a32"],[redMixedMap,"mixed","#ff0a32"]
];
layersB.forEach(function(l) {
  var m = markB[l[1]];
  mapG.append("g").selectAll("path").data(l[0]).enter().append("path")
    .attr("d", d3.symbol().type(m.type).size(m.size))
    .attr("transform", function(d) { return "translate("+lon(d[0])+","+lat(d[1])+") rotate("+m.rot+")"; })
    .attr("fill", l[2]).attr("fill-opacity", 0.42);
});

// legend of panel B
var legB = svg.append("g");
legB.append("rect").attr("x",479).attr("y",948).attr("width",83).attr("height",92)
  .attr("fill","#fff").attr("stroke","#333").attr("stroke-width",1.4);
var legBY = d3.scalePoint().domain(mapLegend).range([961,1027]);
var legBMarks = ["bicolor","caudatum","guinea","kafir","durra","mixed"];
var legBSize = [40,40,30,45,45,18];
mapLegend.forEach(function(name, i) {
  var m = markB[legBMarks[i]];
  legB.append("path").attr("d", d3.symbol().type(m.type).size(legBSize[i]))
    .attr("transform","translate(489,"+legBY(name)+") rotate("+m.rot+")").attr("fill","#bdbdbd");
  legB.append("text").attr("x",499).attr("y",legBY(name)+3.5).style("font-size","10.4px").attr("fill","#222").text(name);
});
</script>
</body>
</html>
